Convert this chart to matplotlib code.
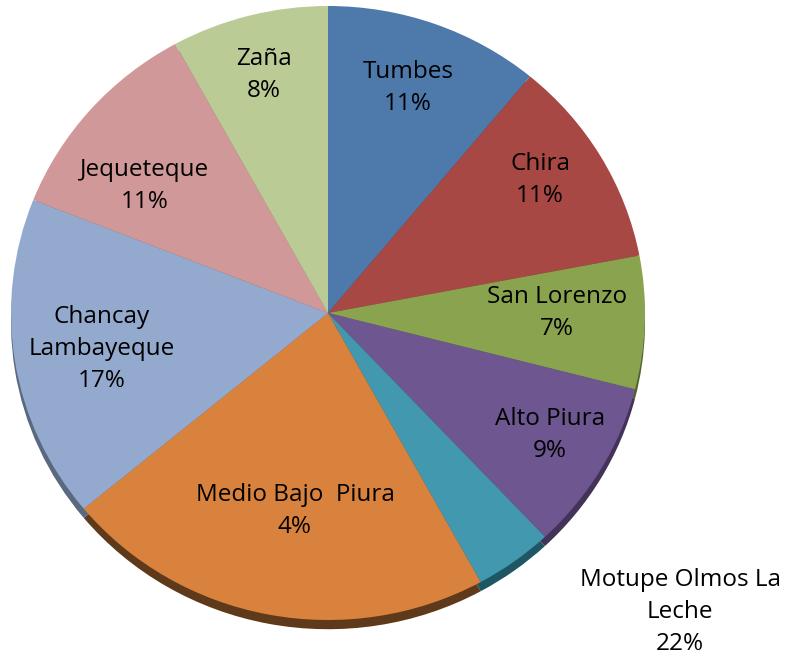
import matplotlib
matplotlib.use("Agg")
import matplotlib.pyplot as plt
import numpy as np

categories = ["Tumbes", "Chira", "San Lorenzo", "Alto Piura", "Medio Bajo Piura",
              "Motupe Olmos La Leche", "Chancay Lambayeque", "Jequeteque", "Zaña"]
values = [11, 11, 7, 9, 4, 22, 17, 11, 8]
label_texts = ["Tumbes\n11%", "Chira\n11%", "San Lorenzo\n7%", "Alto Piura\n9%",
               "Medio Bajo  Piura\n4%", "Motupe Olmos La\nLeche\n22%",
               "Chancay\nLambayeque\n17%", "Jequeteque\n11%", "Zaña\n8%"]

colors = ["#4E79AB", "#A84845", "#8AA34F", "#6E5690", "#4198AF",
          "#D8823D", "#94A9CE", "#D09898", "#BBCB96"]
shadow_colors = ["#2E4A6A", "#662A28", "#53632F", "#433358", "#1F5663",
                 "#5E3A1A", "#5A6880", "#7E5C5C", "#70795A"]

# label centres in pixel coordinates of the 787x658 figure
label_pos = [(408, 88), (540, 180), (557, 313), (550, 435), (295, 511),
             (680, 612), (102, 349), (145, 186), (264, 75)]

W, H = 787, 658
fig = plt.figure(figsize=(W / 100, H / 100), dpi=100)
cx, cy, rx, ry = 328, 313, 317, 307
ax = fig.add_axes([(cx - rx) / W, (H - (cy + ry)) / H, 2 * rx / W, 2 * ry / H])

# shadow
ax.pie(values, colors=shadow_colors, startangle=90, counterclock=False,
       radius=1.0, center=(0, -0.03), frame=True,
       wedgeprops=dict(linewidth=0))
ax.pie(values, colors=colors, startangle=90, counterclock=False,
       radius=1.0, center=(0, 0), frame=True,
       wedgeprops=dict(linewidth=0))
ax.set_aspect("auto")
ax.set_xlim(-1, 1)
ax.set_ylim(-1, 1)
ax.axis("off")

for txt, (px, py) in zip(label_texts, label_pos):
    fig.text(px / W, 1 - py / H, txt, ha="center", va="center",
             fontsize=17.5, family=["Open Sans", "DejaVu Sans"], color="black",
             linespacing=1.45)

fig.savefig("out.png", dpi=100)
